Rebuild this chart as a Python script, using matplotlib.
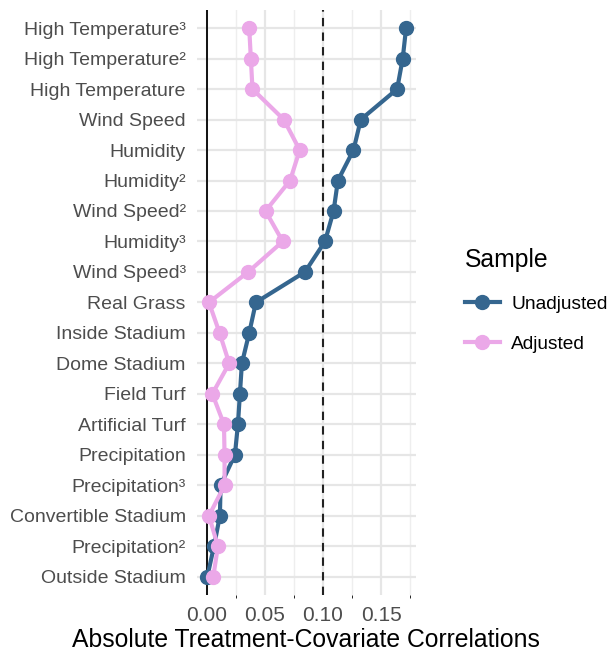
import matplotlib
matplotlib.use("Agg")
import matplotlib.pyplot as plt
from matplotlib.lines import Line2D
import numpy as np

plt.rcParams['font.family'] = ['Liberation Sans', 'DejaVu Sans']

# covariates, top to bottom
covariates = ["High Temperature³", "High Temperature²", "High Temperature",
              "Wind Speed", "Humidity", "Humidity²", "Wind Speed²", "Humidity³",
              "Wind Speed³", "Real Grass", "Inside Stadium", "Dome Stadium",
              "Field Turf", "Artificial Turf", "Precipitation", "Precipitation³",
              "Convertible Stadium", "Precipitation²", "Outside Stadium"]

unadjusted = [0.1714, 0.1685, 0.1637, 0.1325, 0.1262, 0.1128, 0.1091, 0.1017,
              0.0845, 0.0423, 0.0366, 0.0303, 0.0286, 0.0269, 0.0243, 0.0120,
              0.0114, 0.0063, 0.0006]
adjusted = [0.0366, 0.0380, 0.0394, 0.0663, 0.0800, 0.0717, 0.0506, 0.0654,
            0.0357, 0.0020, 0.0111, 0.0194, 0.0049, 0.0149, 0.0154, 0.0154,
            0.0020, 0.0097, 0.0057]

col_un = "#35668F"
col_adj = "#EBA8E8"

fig = plt.figure(figsize=(6.11, 6.56), dpi=100)
ax = fig.add_axes([0.322, 0.093, 0.359, 0.892])

y = np.arange(len(covariates))[::-1] + 1

ax.plot(unadjusted, y, color=col_un, lw=3, marker="o", ms=10, zorder=3)
ax.plot(adjusted, y, color=col_adj, lw=3, marker="o", ms=10, zorder=4)

ax.axvline(0, color="black", lw=1.3, zorder=2)
ax.axvline(0.1, color="#222222", lw=1.5, ls=(0, (4, 3)), zorder=2)

ax.set_xlim(-0.0085, 0.18)
ax.set_ylim(0.4, len(covariates) + 0.6)
ax.set_yticks(y)
ax.set_yticklabels(covariates)
ax.set_xticks([0, 0.05, 0.10, 0.15])
ax.set_xticklabels(["0.00", "0.05", "0.10", "0.15"])
ax.set_xticks([0.025, 0.075, 0.125, 0.175], minor=True)

ax.grid(True, which="major", color="#E6E6E6", lw=1.6, zorder=0)
ax.grid(True, which="minor", axis="x", color="#EEEEEE", lw=1.0, zorder=0)
ax.set_axisbelow(True)
for s in ax.spines.values():
    s.set_visible(False)
ax.tick_params(length=0, labelsize=14, labelcolor="#4D4D4D", pad=8)
ax.tick_params(axis="x", labelsize=15, pad=8)

ax.set_xlabel("Absolute Treatment-Covariate Correlations", fontsize=17.8, labelpad=2)

handles = [Line2D([], [], color=col_un, lw=3, marker="o", ms=10),
           Line2D([], [], color=col_adj, lw=3, marker="o", ms=10)]
leg = fig.legend(handles, ["Unadjusted", "Adjusted"], title="Sample",
                 loc="upper left", bbox_to_anchor=(0.733, 0.648),
                 frameon=False, fontsize=13.8, title_fontsize=17.8,
                 handlelength=1.8, handletextpad=0.6, labelspacing=1.2,
                 alignment="left")

fig.savefig("out.png", dpi=100)
